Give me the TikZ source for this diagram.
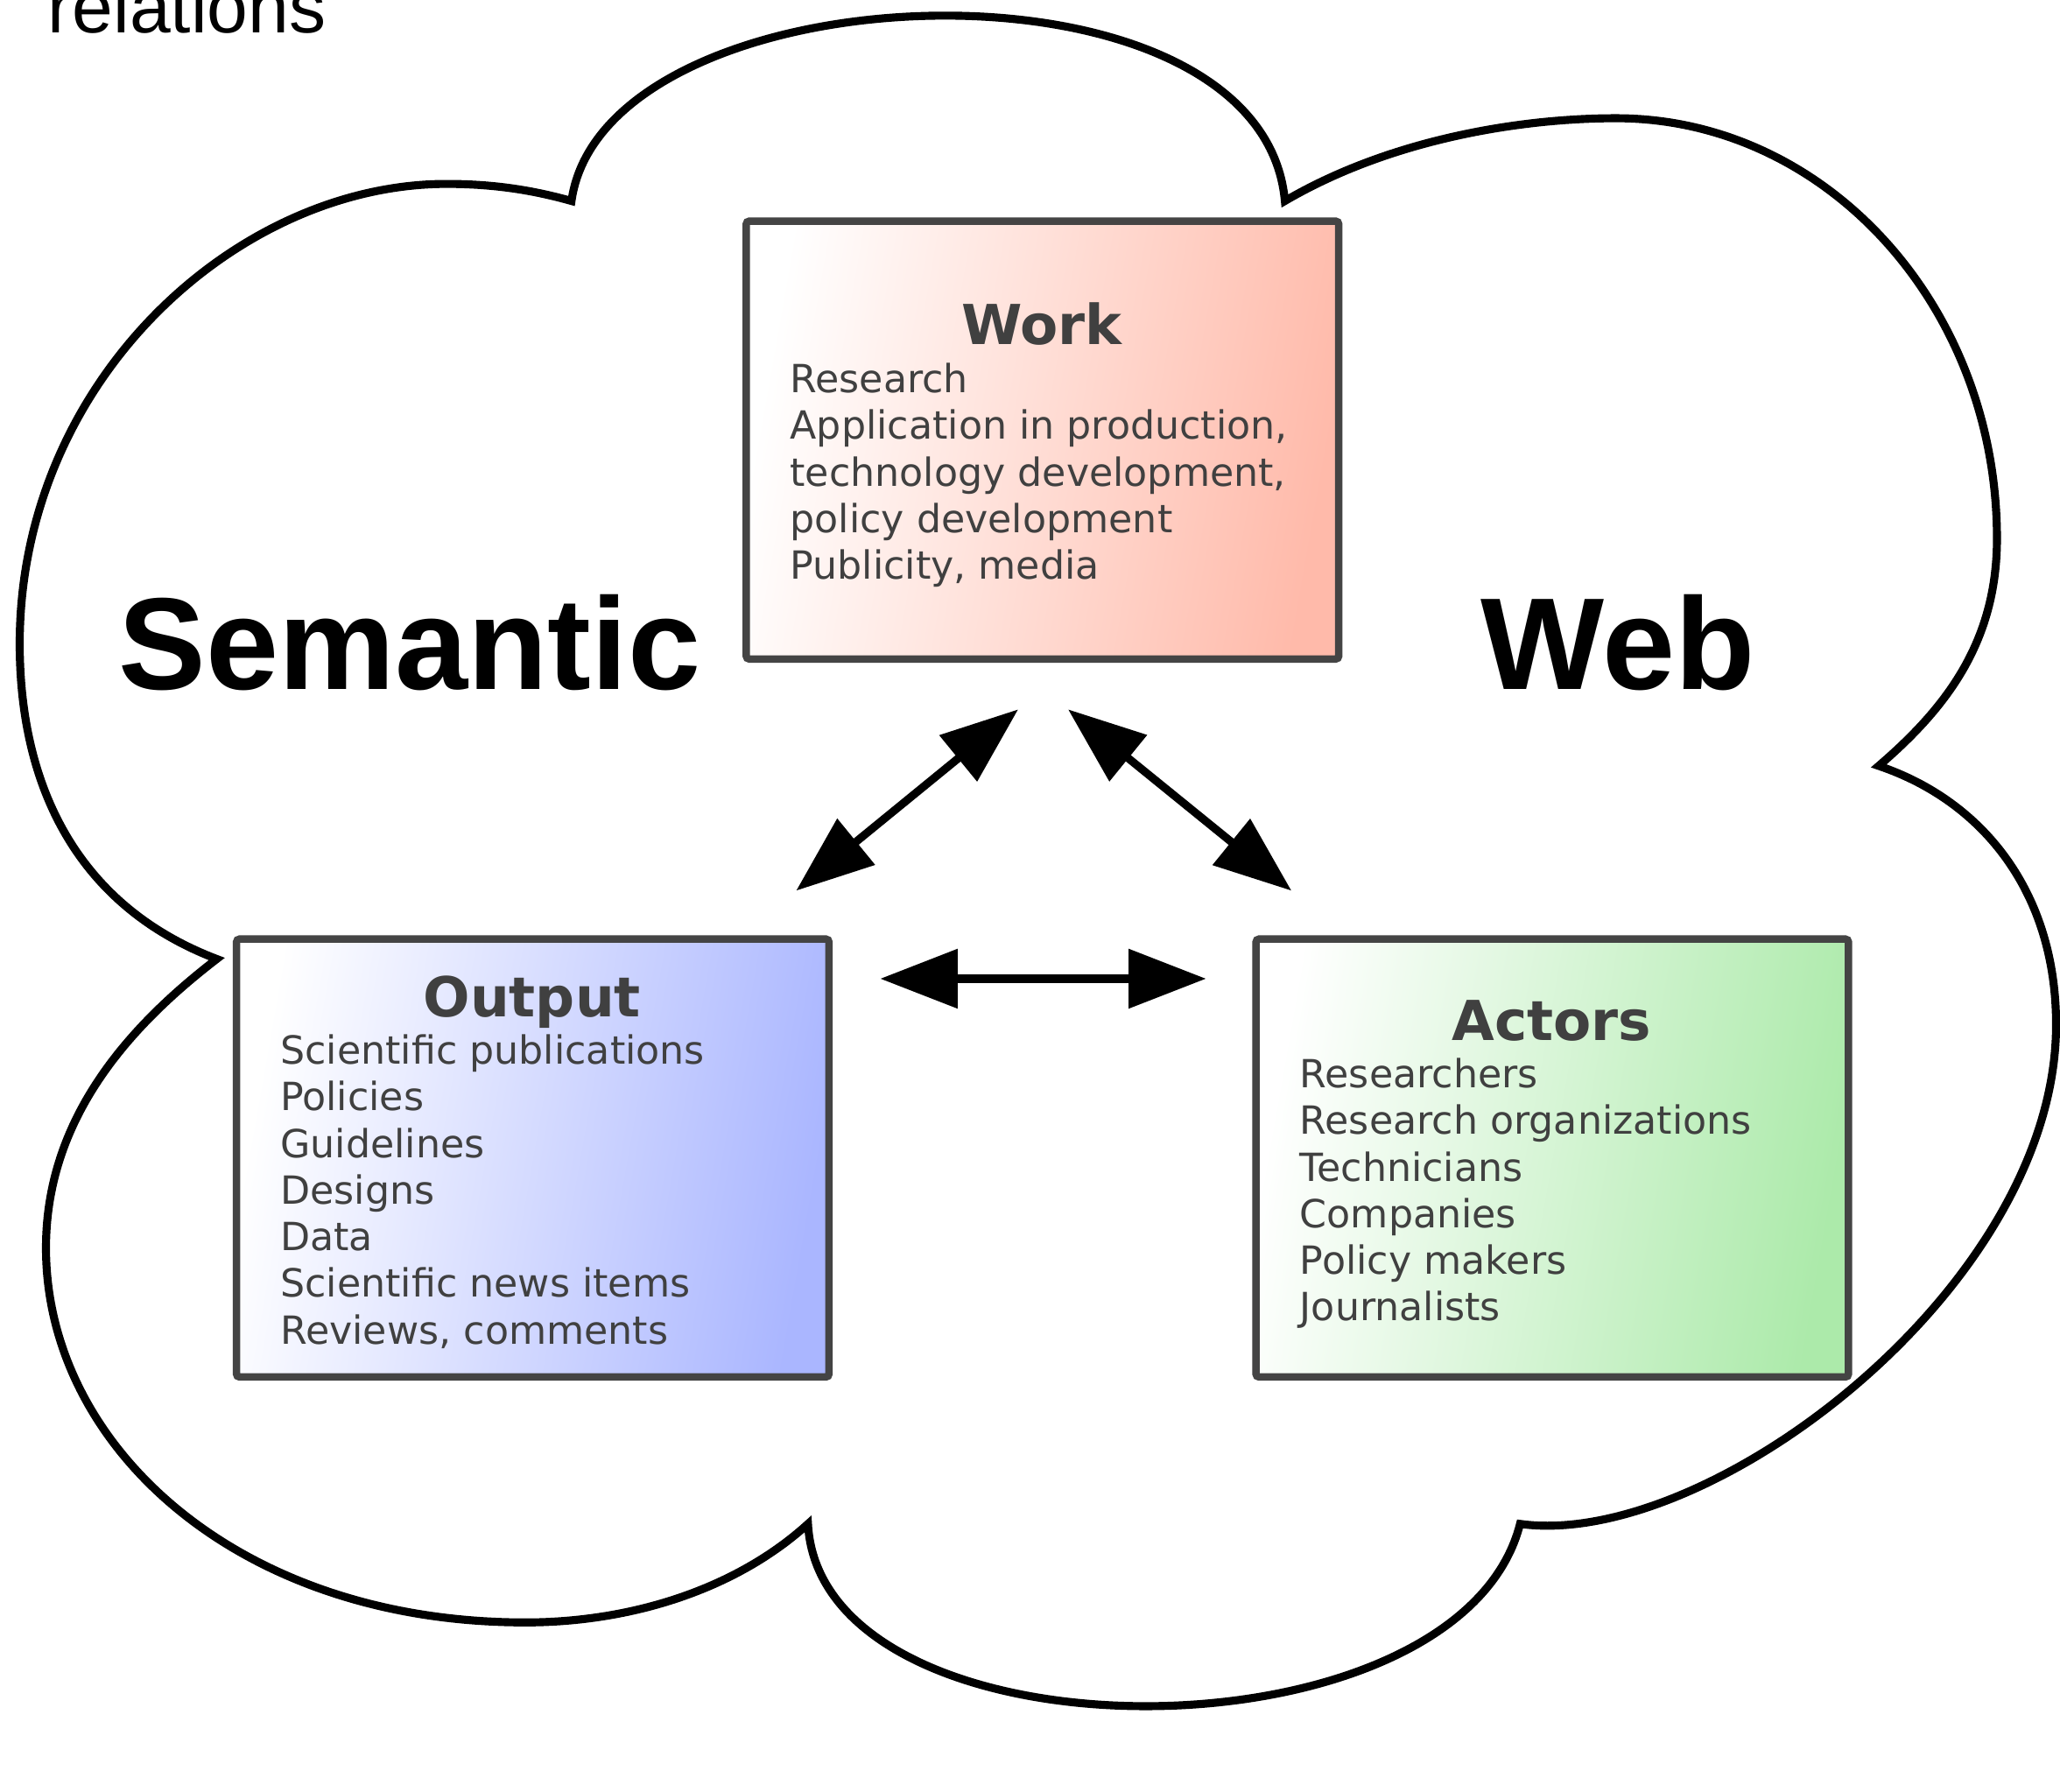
\documentclass[tikz,border=0pt]{standalone}
\usepackage{fontspec}
\setmainfont{DejaVu Sans}
\newfontfamily\arialfont{Liberation Sans}
\usetikzlibrary{arrows.meta,positioning}
\definecolor{boxline}{HTML}{444444}
\definecolor{boxtext}{HTML}{404040}
\definecolor{workred}{HTML}{FFBAAA}
\definecolor{outblue}{HTML}{AAB6FF}
\definecolor{actgreen}{HTML}{ACEAAA}
\tikzset{
	field/.style={draw=boxline, line width=2.4pt, rounded corners=1pt,
		minimum width=6.765cm, minimum height=5cm,
		left color=white, middle color=#1!35!white, right color=#1, shading angle=80},
	head/.style={text=boxtext, anchor=base, inner sep=0pt,
		font=\bfseries\fontsize{17.9}{21}\selectfont},
	% base west of a multi-line node sits on its last line
	items/.style={text=boxtext, align=left, anchor=base west, inner sep=0pt,
		font=\fontsize{12.6}{15.15}\selectfont},
	bigword/.style={anchor=base west, inner sep=0pt,
		font=\arialfont\bfseries\fontsize{42.5}{48}\selectfont},
	link/.style={{Triangle[length=8.85mm,width=6.6mm]}-{Triangle[length=8.85mm,width=6.6mm]}, line width=2.6pt},
}
\begin{document}
\begin{tikzpicture}[x=0.015cm, y=-0.015cm]
	\path[use as bounding box] (0,0) rectangle (1568,1364);
	\clip (0,0) rectangle (1568,1364);
	\node[anchor=base west, inner sep=0pt, font=\arialfont\fontsize{23.9}{28}\selectfont] (relations) at (36,25) {relations};
	% cloud
	\draw[line width=2.6pt] (435,153) .. controls (460,-25) and (960,-45) .. (978,153)
		.. controls (1060,105) and (1160,90) .. (1230,90)
		.. controls (1390,90) and (1520,233) .. (1520,410)
		.. controls (1520,490) and (1480,540) .. (1430,583)
		.. controls (1510,610) and (1565,680) .. (1565,780)
		.. controls (1565,980) and (1300,1180) .. (1157,1160)
		.. controls (1110,1345) and (625,1345) .. (615,1160)
		.. controls (560,1210) and (480,1235) .. (400,1235)
		.. controls (180,1235) and (35,1100) .. (35,950)
		.. controls (35,850) and (100,780) .. (165,730)
		.. controls (60,690) and (15,600) .. (15,490)
		.. controls (15,290) and (180,140) .. (340,140)
		.. controls (380,140) and (410,146) .. (435,153) -- cycle;
	\node[bigword] (semantic) at (90,525) {Semantic};
	\node[bigword] (web) at (1127,525) {Web};
	% boxes
	\node[field=workred] (work) at (793.5,335) {};
	\node[field=outblue] (output) at (405.5,881.5) {};
	\node[field=actgreen] (actors) at (1181.5,881.5) {};
	\node[head] (worktitle) at (793,262) {Work};
	\node[head] (outtitle) at (405,774) {Output};
	\node[head] (acttitle) at (1181,792) {Actors};
	\node[items] (worklist) at (601,441) {Research\\Application in production,\\technology development,\\policy development\\Publicity, media};
	\node[items] (outlist) at (213,1023) {Scientific publications\\Policies\\Guidelines\\Designs\\Data\\Scientific news items\\Reviews, comments};
	\node[items] (actlist) at (989,1005.5) {Researchers\\Research organizations\\Technicians\\Companies\\Policy makers\\Journalists};
	% arrows
	\coordinate (ow) at (606,678);
	\coordinate (wo) at (775,540);
	\coordinate (wa) at (813,540);
	\coordinate (aw) at (983,678);
	\coordinate (oa) at (670,745);
	\coordinate (ao) at (918,745);
	\draw[link] (ow) -- (wo);
	\draw[link] (wa) -- (aw);
	\draw[link] (oa) -- (ao);
\end{tikzpicture}
\end{document}
